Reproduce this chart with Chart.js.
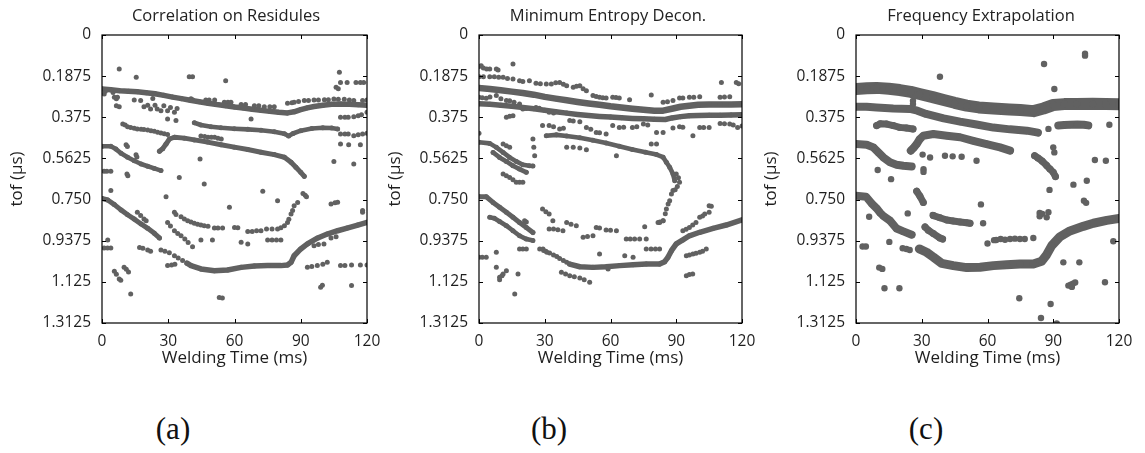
<!DOCTYPE html>
<html><head><meta charset="utf-8">
<script src="https://cdn.jsdelivr.net/npm/chart.js@4/dist/chart.umd.min.js"></script>
<style>
body{margin:0;background:#fff;width:1145px;height:453px;position:relative;overflow:hidden}
canvas{position:absolute;top:0}
.ttl{position:absolute;top:4px;font:16.5px/22px "Open Sans",sans-serif;color:#222;white-space:nowrap;transform:translateX(-50%)}
.cap{position:absolute;top:413px;font:31px/31px "Liberation Serif",serif;color:#111;transform:translateX(-50%)}
</style></head><body>
<canvas id="ca" width="382" height="380" style="left:0px"></canvas>
<canvas id="cb" width="379" height="380" style="left:378px"></canvas>
<canvas id="cc" width="380" height="380" style="left:754px"></canvas>
<div class="ttl" id="t0" style="left:226px"></div>
<div class="ttl" id="t1" style="left:608px"></div>
<div class="ttl" id="t2" style="left:981px"></div>
<div class="cap" id="c0" style="left:173px"></div>
<div class="cap" id="c1" style="left:549px"></div>
<div class="cap" id="c2" style="left:926px"></div>
<script>
const panelTitles = ["Correlation on Residules", "Minimum Entropy Decon.", "Frequency Extrapolation"];
const panelCaptions = ["(a)", "(b)", "(c)"];
const xAxisTitle = "Welding Time (ms)";
const yAxisTitle = "tof (\u03bcs)";
const xTicks = [0, 30, 60, 90, 120];
const xTickLabels = ["0", "30", "60", "90", "120"];
const yTicks = [0, 0.1875, 0.375, 0.5625, 0.75, 0.9375, 1.125, 1.3125];
const yTickLabels = ["0", "0.1875", "0.375", "0.5625", "0.750", "0.9375", "1.125", "1.3125"];

// ---------- Panel (a): Correlation on Residules ----------
const aTop = [[0,.246],[4,.250],[8,.254],[12,.256],[16,.259],[20,.263],[24,.268],[28,.275],[32,.283],[36,.290],[40,.297],[44,.304],[48,.311],[52,.317],[56,.322],[60,.328],[64,.333],[68,.338],[72,.343],[76,.348],[80,.352],[84,.355],[87,.350],[90,.340],[93,.332],[96,.326],[100,.320],[104,.316],[108,.315],[112,.316],[116,.318],[120,.320]];
const aMidR = [[41.8,.400],[44.8,.410],[49.4,.418],[53.9,.423],[59.9,.427],[66,.430],[72,.434],[78,.441],[82.6,.450],[84.5,.460],[86.5,.449],[90,.436],[95,.426],[100,.423],[104,.424],[106.7,.428]];
const aArc = [[26,.530],[27.5,.518],[29,.497],[30.5,.474],[32.8,.466],[37.3,.470],[41.8,.478],[47.8,.488],[53.9,.500],[59.9,.511],[66,.522],[72,.534],[78,.545],[82.6,.557],[85.6,.580],[87.8,.603],[90,.626],[91.6,.644]];
const aLeft = [[0,.507],[4,.507],[6.3,.520],[8.6,.539],[11.6,.557],[14.6,.573],[17.7,.588],[20.7,.598],[23.7,.608],[26.7,.618]];
const aBotL = [[0,.745],[2.6,.752],[5.6,.773],[8.6,.797],[11.6,.819],[14.6,.839],[17.7,.861],[20.7,.881],[23.7,.904],[26,.925]];
const aBotR = [[38.5,1.040],[40.3,1.051],[44.8,1.066],[50.9,1.074],[56.9,1.071],[63,1.059],[69,1.053],[75,1.051],[81,1.051],[84,1.048],[85.6,1.036],[87,1.006],[90,.975],[93,.952],[97.7,.925],[102,.907],[106.7,.892],[111,.880],[115.8,.866],[120,.854]];
const aDots = [[9.4,.406],[10.5,.410],[11.6,.418],[13,.421],[14.6,.425],[16,.428],[17.7,.430],[19,.431],[20.7,.433],[22.2,.436],[23.7,.439],[25.2,.443],[26.7,.447],[28.2,.450],[29.7,.454],
[26.7,.980],[28.5,.985],[30.5,.992],[32.8,1.006],[34.5,1.016],[36.5,1.028],
[1,.269],[1.5,.256],[5,.262],[5.6,.284],[6.5,.290],[7,.284],[7.8,.327],[6.5,.322],[14.6,.296],[17.5,.299],[19,.327],[20.7,.320],[22,.337],[23,.289],[24,.320],[25,.337],[26.7,.345],[28,.322],[29.7,.345],[31,.330],[32.8,.352],[34,.335],[29.7,.383],[33.5,.390],[40.3,.290],
[41,.295],[47,.296],[48.5,.296],[51,.296],[55.4,.307],[57,.307],[58.4,.307],[63,.317],[65,.317],[69,.322],[71,.322],[73.5,.327],[76,.327],[78,.327],[84,.311],[86,.309],[87,.307],[89,.303],[91.6,.299],[93.5,.298],[96,.296],[98,.296],[100.7,.295],[102.5,.295],[105,.292],[107,.293],[109.7,.293],[112,.296],[114,.299],[118,.299],[120,.296],
[107.5,.170],[106,.238],[107,.245],[108,.216],[111,.216],[115,.216],[117,.216],[118.5,.216],
[7.8,.155],[15.5,.193],[39.5,.190],[41,.190],[56,.208],[67.5,.383],
[108,.375],[110,.375],[111.5,.375],[114,.372],[116,.368],[117.5,.363],[120,.352],
[108,.451],[110,.451],[111.5,.451],[114,.459],[116,.455],[118,.451],[120,.448],
[108,.497],[111.7,.500],[117,.500],[105,.576],[114,.588],
[103.7,.770],[105.5,.765],[106.7,.762],[118,.800],[118,.808],
[44.8,.460],[46.5,.463],[48,.466],[49.5,.466],[51,.466],[52.5,.470],[54,.474],
[10.9,.500],[11.5,.508],[15.4,.546],[15.8,.556],[1,.621],[2.2,.621],[4,.621],[11.3,.633],[11.7,.642],[35,.649],[44.4,.565],[46.3,.679],[29,.737],[57.7,.785],[72.8,.712],[79.5,.755],[91,.722],[92,.730],[92.6,.737],[4,.709],
[32.8,.808],[33.5,.818],[35.8,.828],[37.3,.838],[38.8,.846],[40.3,.852],[41.8,.858],[43.3,.862],[44.8,.866],[46.3,.869],[48,.872],[50.9,.880],[52.5,.880],[54.6,.880],[60,.877],[61.5,.878],[66,.896],[68,.895],[70,.892],[72,.892],[74.5,.884],[77,.884],[79.5,.884],[81,.878],[82.6,.869],[84,.854],[84.6,.840],[85.6,.816],[86.3,.800],[87,.778],[88.6,.763],
[29.7,.854],[31,.870],[32.8,.892],[34.3,.905],[35.8,.915],[37.5,.930],[39,.946],[41,.965],
[16,.808],[17.5,.823],[19,.839],[20,.846],[17,.968],[18.5,.972],[20.7,.980],[22,.985],
[29.7,1.051],[31.5,1.048],[33,1.045],[44.8,.934],[50,.934],[63,.945],[66,.952],
[75,.934],[77,.934],[79,.934],[81,.934],[96,.960],[98,.955],[100.5,.952],[103.7,.925],[106,.920],
[93,1.059],[95,1.055],[97.5,1.051],[100,1.045],[102,1.036],
[108,1.051],[110,1.051],[113,1.048],[117,1.048],[120,1.048],
[99,1.150],[99.8,1.140],[113,1.142],
[5.6,1.077],[6.5,1.090],[7.8,1.112],[8.5,1.118],[10,1.059],[11,1.068],[12,1.080],[13,1.180],
[1,.971],[2.5,.971],[4,.971],[2.6,.934],[53.1,1.196],[54.5,1.198]];

// ---------- Panel (b): Minimum Entropy Decon. ----------
const bTop = [[0,.242],[5,.246],[10,.252],[15,.258],[20,.264],[25,.272],[30,.282],[35,.290],[40,.297],[45,.305],[50,.312],[55,.318],[60,.325],[65,.330],[70,.336],[75,.341],[80,.345],[84,.345],[88,.336],[92,.327],[96,.322],[100,.318],[105,.317],[110,.317],[115,.317],[120,.316]];
const bSecond = [[0,.313],[5,.316],[10,.320],[15,.325],[20,.330],[25,.336],[30,.343],[35,.350],[40,.356],[45,.362],[50,.367],[55,.371],[60,.374],[65,.377],[70,.380],[75,.382],[80,.384],[85,.385],[88,.378],[92,.372],[96,.368],[100,.367],[105,.366],[110,.366],[115,.365],[120,.363]];
const bArc = [[30.7,.459],[35.3,.455],[40,.460],[46,.468],[52,.480],[58,.492],[64,.507],[70,.522],[76,.534],[81,.545],[84,.557],[85.5,.580],[87,.603],[88.5,.633],[89.3,.664]];
const bLeft1 = [[0,.489],[4.9,.494],[7.9,.512],[11,.535],[14,.558],[17,.576],[20,.591],[23,.596],[24.6,.597]];
const bLeft2 = [[6.4,.535],[9.4,.558],[12.5,.576],[15.5,.596],[18.5,.611],[21.6,.626]];
const bBotL = [[0,.737],[3.3,.737],[6.4,.763],[9.4,.785],[12.5,.808],[15.5,.831],[18.5,.854],[21.6,.877],[24.6,.900]];
const bBotL2 = [[4.9,.831],[7,.835],[9.4,.850],[12.5,.869],[15.5,.892],[18.5,.915],[21.6,.930],[24.6,.937]];
const bBotR = [[41.4,1.044],[46,1.056],[52,1.059],[58,1.056],[64.2,1.051],[70.3,1.047],[76.3,1.044],[82.4,1.044],[84.7,1.033],[86.2,1.013],[87.8,.983],[90,.952],[93,.934],[96,.915],[100.7,.899],[106.8,.881],[112.8,.866],[120,.843]];
const bDots = [[88.5,.709],[87.8,.725],[87,.755],[86.3,.770],[85.5,.793],[85,.815],[84,.846],[82.5,.852],[81.7,.854],
[11,.633],[12.5,.641],[14,.649],[15.5,.660],[17,.671],[18.5,.671],[20,.671],
[27.7,.975],[29.5,.982],[31,.990],[32.2,.993],[34,1.003],[35.5,1.010],[36.8,1.018],[38.5,1.028],[40,1.036],
[0,.144],[1,.140],[2,.150],[3.5,.155],[4.9,.155],[7.9,.155],[8.7,.160],[15.5,.132],[0,.190],[2,.190],[4.9,.190],[7,.190],[9,.192],[11,.193],[13,.198],[15.5,.201],[18.5,.208],[20,.212],[23,.208],[26,.220],[28,.222],[30.7,.223],[33,.223],[35,.218],[36.8,.216],[38.5,.225],[40,.231],[43,.238],[44.5,.234],[46,.231],[47.5,.245],[49,.254],[52,.276],[53.5,.280],[55,.284],[56.5,.286],[58,.287],[61,.284],[62.5,.285],[64,.287],[68.7,.295],[78.6,.273],[84,.307],[86,.304],[88.5,.299],[91.5,.287],[93,.287],[96,.284],[98,.284],[100.7,.281],[110,.284],[112,.283],[114.4,.281],[110.6,.216],[117.4,.216],[118.5,.222],
[0,.284],[1.5,.286],[3.3,.288],[5,.282],[7.9,.276],[10,.290],[12.5,.299],[14,.300],[16,.306],[18.5,.314],[20,.337],[21.5,.335],[12.5,.375],[14,.370],[15.5,.368],[26,.330],[27.5,.334],[32,.352],[34,.355],[29,.413],[32,.413],[34,.418],[36.8,.428],[38.5,.425],[41.4,.390],[43,.392],[46,.395],[49,.421],[51,.430],[53.5,.444],[55,.446],[58,.451],[61,.413],[64,.421],[66,.420],[70,.421],[72,.418],[75,.406],[77,.410],[81,.444],[84,.444],[88.5,.424],[91.5,.418],[93,.420],[97.6,.459],[100.7,.421],[102.5,.421],[105,.421],[110,.403],[112,.405],[114.4,.406],[116,.410],[118,.421],[120,.415],
[24.6,.474],[25,.512],[25.4,.550],[40,.512],[43,.512],[46,.515],[49,.523],[62.7,.550],[78.6,.497],[81,.497],[0,.448],[11,.497],[12.5,.505],[14,.512],[90,.633],[91,.650],[91.5,.671],[90.5,.690],[89.5,.705],
[29,.793],[30.5,.805],[32,.816],[33.7,.846],[32,.884],[34,.884],[36,.888],[38.3,.892],[40,.854],[42,.862],[44.4,.869],[47.5,.922],[49.5,.918],[52,.915],[53.5,.877],[55,.880],[58,.889],[60,.890],[62.7,.892],[67.2,.930],[69,.930],[71,.930],[73.3,.930],[76.3,.930],[76.3,.975],[78.5,.975],[80.5,.975],[82.4,.975],[75.6,.874],[82.4,.854],[84,.846],
[29.2,.975],[30.5,.985],[37.6,1.081],[39.5,1.089],[41.4,1.097],[43.5,1.102],[46,1.107],[48,1.115],[50.5,1.127],
[55,.998],[58.9,1.066],[66.5,1.006],[70.3,1.013],
[93,.892],[94.5,.885],[96,.877],[97.5,.866],[99,.854],[100.7,.831],[102,.825],[103,.816],[105,.778],[105,.808],[106,.780],
[94.6,1.006],[96,1.003],[97.6,.998],[99,.995],[100.7,.990],[102,.985],[103.7,.975],[94.6,1.097],[96,1.092],[97.5,1.089],
[20.8,.846],[21.6,.852],[18.5,.975],[20,.975],[21.6,.975],[0,1.013],[1.5,1.013],[3.3,1.013],[7.9,.990],[7.9,1.059],[9.4,1.104],[9.4,1.115],[10.5,1.097],[11,1.089],[12.5,1.074],[17.8,1.089],[16.3,1.180]];

// ---------- Panel (c): Frequency Extrapolation ----------
const cTop = [[0,.246],[5,.243],[9.4,.241],[15,.245],[20,.251],[25,.259],[29,.269],[35,.283],[40,.296],[45,.309],[50.5,.322],[56,.330],[62.7,.335],[70,.339],[75,.342],[81,.347],[85.5,.335],[90,.319],[95,.315],[100.7,.314],[108,.313],[114,.314],[120,.316]];
const cSecond = [[0,.327],[4.9,.327],[9.4,.330],[17,.335],[24.6,.337],[28,.345],[32,.360],[40,.380],[47.5,.395],[55,.408],[62.7,.422],[70.3,.430],[78,.436],[83,.445]];
const cSecondR = [[92.3,.412],[95,.410],[97.6,.409],[101,.408],[104,.409],[106,.412]];
const cThird = [[9.4,.413],[11,.405],[14,.406],[17,.413],[20,.421],[23,.424],[26,.428]];
const cArc = [[25,.527],[26.5,.512],[27.7,.497],[29,.476],[30.7,.459],[35.3,.451],[41.4,.459],[47.5,.466],[53.5,.482],[59.6,.497],[65.7,.512],[70.3,.527]];
const cArcR = [[81.5,.550],[83,.560],[85,.575],[87,.595],[88.5,.611],[90,.626],[91,.645]];
const cLeft = [[0,.497],[4.9,.500],[7.9,.512],[10.2,.535],[12.5,.558],[15.5,.580],[18.5,.591],[21.6,.596],[25.4,.599]];
const cBotL = [[0,.733],[4.6,.737],[7.1,.767],[9.4,.790],[11,.810],[12.5,.825],[15.5,.846],[18.5,.882],[21.6,.895],[25.4,.910]];
const cBotR = [[28.9,.975],[32.2,.990],[35.3,1.012],[39.1,1.041],[44.4,1.051],[50.5,1.060],[56.6,1.058],[62.7,1.051],[68.7,1.047],[74.8,1.044],[80.9,1.044],[84.7,1.031],[87,1.001],[89.3,.960],[93,.920],[97.6,.893],[103.7,.872],[108.3,.858],[114.4,.845],[120,.836]];
const cRow1 = [[35.3,.823],[38.3,.833],[41.4,.843],[44.4,.848],[47.5,.852],[50.5,.856],[52,.858]];
const cRow2 = [[31.5,.875],[33,.890],[35.3,.905],[38.3,.925],[39.5,.930]];
const cRow3 = [[27.7,.712],[29.2,.735],[30.7,.763]];
const cDots = [[64,.934],[66,.930],[68,.933],[70.3,.930],[72.5,.928],[74.8,.930],[77,.930],[80.9,.925],
[38.3,.190],[85.8,.132],[104.5,.094],[104.5,.085],[90.5,.246],[87.8,.428],[90,.512],[90.5,.535],[115.6,.409],[109,.570],[114,.573],[105.3,.664],[99.2,.682],[104,.755],[105,.765],[88.3,.706],
[30.4,.545],[30.8,.612],[30.8,.624],[33.8,.558],[40.6,.550],[44.1,.553],[48.2,.555],[55,.573],[9.9,.615],[16,.657],[6,.828],[23.6,.813],[15.2,.943],[3,.964],[4.5,.964],[21.3,.972],[23,.975],[24.5,.980],
[10.6,1.060],[12,1.066],[13,1.154],[19.8,1.154],[74.5,1.200],[84.4,1.290],[88.8,1.226],[91.6,1.314],[94.6,1.036],[101.9,1.036],
[96.9,1.142],[98,1.138],[99,1.133],[100,1.128],[98.5,1.148],[113.6,1.127],[117.4,.940],[60,.950],[63,.935],[57,.772],[58,.858],[35,.820],
[83.8,.811],[83.8,.826],[85,.815],[87.8,.808],[87,.831],[26,.300],[26,.315]];

const ink = '#616161';
Chart.defaults.font.family = "'Open Sans', sans-serif";
Chart.defaults.font.size = 15.5;
Chart.defaults.color = '#1e1e1e';

const framePlugin = {
  id: 'frame',
  afterDraw(chart) {
    const {ctx, chartArea: a, scales: {x, y}} = chart;
    ctx.save();
    ctx.strokeStyle = '#000';
    ctx.lineWidth = 1.2;
    ctx.strokeRect(a.left, a.top, a.right - a.left, a.bottom - a.top);
    ctx.lineWidth = 1;
    ctx.beginPath();
    const L = 4;
    xTicks.forEach(v => {
      const px = Math.round(x.getPixelForValue(v)) + 0.5;
      ctx.moveTo(px, a.bottom); ctx.lineTo(px, a.bottom - L);
      ctx.moveTo(px, a.top); ctx.lineTo(px, a.top + L);
    });
    yTicks.forEach(v => {
      const py = Math.round(y.getPixelForValue(v)) + 0.5;
      ctx.moveTo(a.left, py); ctx.lineTo(a.left + L, py);
      ctx.moveTo(a.right, py); ctx.lineTo(a.right - L, py);
    });
    ctx.stroke();
    ctx.restore();
  }
};

function toXY(arr) { return arr.map(p => ({x: p[0], y: p[1]})); }

function makePanel(id, tracks, dots, yWidth, lw, pr, dr) {
  const datasets = tracks.map(t => ({
    data: toXY(t.d), showLine: true, borderColor: ink, borderWidth: t.w || lw,
    borderCapStyle: 'round', borderJoinStyle: 'round',
    pointRadius: pr, pointBackgroundColor: ink, pointBorderWidth: 0
  }));
  datasets.push({data: toXY(dots), showLine: false, pointRadius: dr, pointBackgroundColor: ink, pointBorderWidth: 0});
  new Chart(document.getElementById(id), {
    type: 'scatter',
    data: {datasets},
    options: {
      responsive: false, animation: false, devicePixelRatio: 1,
      layout: {padding: {top: 35, right: 15, left: 0, bottom: 0}},
      plugins: {legend: {display: false}, tooltip: {enabled: false}, title: {display: false}},
      scales: {
        x: {
          type: 'linear', min: 0, max: 120, position: 'bottom',
          afterBuildTicks: s => { s.ticks = xTicks.map(v => ({value: v})); },
          afterFit: s => { s.height = 57; s.paddingLeft = 0; s.paddingRight = 0; },
          grid: {display: false, drawTicks: false}, border: {display: false},
          ticks: {padding: 9, maxRotation: 0, autoSkip: false, callback: v => xTickLabels[xTicks.indexOf(v)]},
          title: {display: true, text: xAxisTitle, font: {size: 17}, padding: {top: 0, bottom: 12}}
        },
        y: {
          type: 'linear', min: 0, max: 1.3125, reverse: true,
          afterBuildTicks: s => { s.ticks = yTicks.map(v => ({value: v})); },
          afterFit: s => { s.width = yWidth; s.paddingTop = 0; s.paddingBottom = 0; },
          grid: {display: false, drawTicks: false}, border: {display: false},
          ticks: {padding: 11, autoSkip: false, callback: v => yTickLabels[yTicks.indexOf(v)]},
          title: {display: true, text: yAxisTitle, font: {size: 17}, padding: {top: 7, bottom: 0}}
        }
      }
    },
    plugins: [framePlugin]
  });
}

makePanel('ca', [{d: aTop, w: 5.5}, {d: aMidR}, {d: aArc, w: 5}, {d: aLeft}, {d: aBotL, w: 5}, {d: aBotR, w: 5.5}], aDots, 102, 4.6, 2.5, 2.5);
makePanel('cb', [{d: bTop, w: 6.5}, {d: bSecond, w: 5.5}, {d: bArc}, {d: bLeft1}, {d: bLeft2}, {d: bBotL, w: 5}, {d: bBotL2}, {d: bBotR, w: 5.5}], bDots, 101, 4.6, 2.5, 2.5);
makePanel('cc', [{d: cTop, w: 12}, {d: cSecond, w: 8}, {d: cSecondR, w: 8}, {d: cThird}, {d: cArc, w: 8}, {d: cArcR}, {d: cLeft, w: 8}, {d: cBotL, w: 8}, {d: cBotR, w: 9}, {d: cRow1}, {d: cRow2}, {d: cRow3}], cDots, 102, 7, 3.5, 3.2);

panelTitles.forEach((t, i) => { document.getElementById('t' + i).textContent = t; });
panelCaptions.forEach((t, i) => { document.getElementById('c' + i).textContent = t; });
</script>
</body></html>
